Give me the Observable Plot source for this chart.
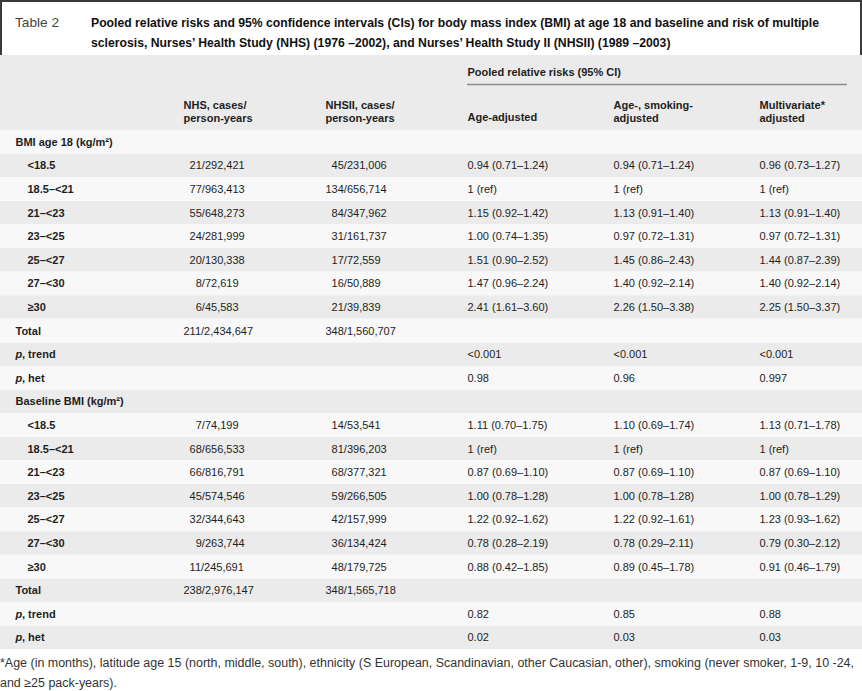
<!DOCTYPE html>
<html><head><meta charset="utf-8">
<script src="https://cdn.jsdelivr.net/npm/d3@7"></script>
<script src="https://cdn.jsdelivr.net/npm/@observablehq/plot@0.6"></script>
<style>
body{margin:0;background:#fff;width:862px;overflow:hidden}
#title{box-sizing:border-box;width:862px;height:55px;border:2px solid #3a3a3a;border-bottom:none;position:relative;font-family:"Liberation Sans",Arial,sans-serif;font-size:13.5px;line-height:20px}
#title .lab{position:absolute;left:13px;top:11px;color:#444}
#title .txt{position:absolute;left:89px;top:11px;font-weight:bold;color:#111}
.ln{display:block;height:20px;white-space:nowrap}
.ln span{display:inline-block;transform-origin:0 0;white-space:nowrap}
#chart svg{display:block}
#note{font-family:"Liberation Sans",Arial,sans-serif;font-size:12.5px;line-height:20px;color:#333;padding-top:2px;width:862px}
</style>
</head><body>
<div id="title"><div class="lab"><span class="ln"><span id="lab">Table 2</span></span></div><div class="txt"><span class="ln"><span id="t1">Pooled relative risks and 95% confidence intervals (CIs) for body mass index (BMI) at age 18 and baseline and risk of multiple</span></span><span class="ln"><span id="t2">sclerosis, Nurses’ Health Study (NHS) (1976 –2002), and Nurses’ Health Study II (NHSII) (1989 –2003)</span></span></div></div>
<div id="chart"></div>
<div id="note"><span class="ln"><span id="n1">*Age (in months), latitude age 15 (north, middle, south), ethnicity (S European, Scandinavian, other Caucasian, other), smoking (never smoker, 1-9, 10 -24,</span></span><span class="ln"><span id="n2">and ≥25 pack-years).</span></span></div>
<script>
// ---------- data ----------
const sections = ["BMI age 18 (kg/m²)", "Baseline BMI (kg/m²)"];
const categories = ["<18.5", "18.5–<21", "21–<23", "23–<25", "25–<27", "27–<30", "≥30"];
const columnHeaders = [
  {key: "nhs", lines: ["NHS, cases/", "person-years"]},
  {key: "nhs2", lines: ["NHSII, cases/", "person-years"]},
  {key: "age", lines: ["Age-adjusted"]},
  {key: "smoke", lines: ["Age-, smoking-", "adjusted"]},
  {key: "multi", lines: ["Multivariate*", "adjusted"]}
];
const spanner = "Pooled relative risks (95% CI)";

const nhsAge18 = ["21/292,421", "77/963,413", "55/648,273", "24/281,999", "20/130,338", "8/72,619", "6/45,583"];
const nhsAge18Total = "211/2,434,647";
const nhs2Age18 = ["45/231,006", "134/656,714", "84/347,962", "31/161,737", "17/72,559", "16/50,889", "21/39,839"];
const nhs2Age18Total = "348/1,560,707";
const ageAdjAge18 = ["0.94 (0.71–1.24)", "1 (ref)", "1.15 (0.92–1.42)", "1.00 (0.74–1.35)", "1.51 (0.90–2.52)", "1.47 (0.96–2.24)", "2.41 (1.61–3.60)"];
const smokeAdjAge18 = ["0.94 (0.71–1.24)", "1 (ref)", "1.13 (0.91–1.40)", "0.97 (0.72–1.31)", "1.45 (0.86–2.43)", "1.40 (0.92–2.14)", "2.26 (1.50–3.38)"];
const multiAdjAge18 = ["0.96 (0.73–1.27)", "1 (ref)", "1.13 (0.91–1.40)", "0.97 (0.72–1.31)", "1.44 (0.87–2.39)", "1.40 (0.92–2.14)", "2.25 (1.50–3.37)"];
const pTrendAge18 = ["<0.001", "<0.001", "<0.001"];
const pHetAge18 = ["0.98", "0.96", "0.997"];

const nhsBase = ["7/74,199", "68/656,533", "66/816,791", "45/574,546", "32/344,643", "9/263,744", "11/245,691"];
const nhsBaseTotal = "238/2,976,147";
const nhs2Base = ["14/53,541", "81/396,203", "68/377,321", "59/266,505", "42/157,999", "36/134,424", "48/179,725"];
const nhs2BaseTotal = "348/1,565,718";
const ageAdjBase = ["1.11 (0.70–1.75)", "1 (ref)", "0.87 (0.69–1.10)", "1.00 (0.78–1.28)", "1.22 (0.92–1.62)", "0.78 (0.28–2.19)", "0.88 (0.42–1.85)"];
const smokeAdjBase = ["1.10 (0.69–1.74)", "1 (ref)", "0.87 (0.69–1.10)", "1.00 (0.78–1.28)", "1.22 (0.92–1.61)", "0.78 (0.29–2.11)", "0.89 (0.45–1.78)"];
const multiAdjBase = ["1.13 (0.71–1.78)", "1 (ref)", "0.87 (0.69–1.10)", "1.00 (0.78–1.29)", "1.23 (0.93–1.62)", "0.79 (0.30–2.12)", "0.91 (0.46–1.79)"];
const pTrendBase = ["0.82", "0.85", "0.88"];
const pHetBase = ["0.02", "0.03", "0.03"];

// ---------- layout ----------
const W = 862, H = 596;
const L = {headerH: 75, rowH: 23.6, secX: 15, catX: 27,
  cols: {nhs: 183, nhs2: 325, age: 467, smoke: 613, multi: 759},
  spanY: 17, ruleY: 29, ruleX2: 847, head1: 50, head2: 63};
const grey = "#ebebeb", light = "#f8f8f8", ink = "#1e1e1e";
const fs = "\u2007";
const pad = s => fs.repeat(Math.max(0, 3 - s.indexOf("/"))) + s;

// ---------- build rows ----------
const rows = [];
function addSection(title, nhs, nhsT, nhs2, nhs2T, age, smoke, multi, pT, pH) {
  rows.push({kind: "section", label: title});
  categories.forEach((c, k) => rows.push({kind: "cat", label: c, nhs: pad(nhs[k]), nhs2: pad(nhs2[k]), age: age[k], smoke: smoke[k], multi: multi[k]}));
  rows.push({kind: "section", label: "Total", nhs: pad(nhsT), nhs2: pad(nhs2T)});
  rows.push({kind: "p", label: ", trend", age: pT[0], smoke: pT[1], multi: pT[2]});
  rows.push({kind: "p", label: ", het", age: pH[0], smoke: pH[1], multi: pH[2]});
}
addSection(sections[0], nhsAge18, nhsAge18Total, nhs2Age18, nhs2Age18Total, ageAdjAge18, smokeAdjAge18, multiAdjAge18, pTrendAge18, pHetAge18);
addSection(sections[1], nhsBase, nhsBaseTotal, nhs2Base, nhs2BaseTotal, ageAdjBase, smokeAdjBase, multiAdjBase, pTrendBase, pHetBase);
rows.forEach((r, i) => { r.i = i; r.top = L.headerH + i * L.rowH; r.mid = r.top + L.rowH / 2; });

const cells = [];
rows.forEach(r => ["nhs", "nhs2", "age", "smoke", "multi"].forEach(k => { if (r[k]) cells.push({x: L.cols[k], y: r.mid, text: r[k]}); }));

const headCells = [];
columnHeaders.forEach(h => {
  if (h.lines.length === 2) {
    headCells.push({x: L.cols[h.key], y: L.head1, text: h.lines[0]});
    headCells.push({x: L.cols[h.key], y: L.head2, text: h.lines[1]});
  } else headCells.push({x: L.cols[h.key], y: L.head2 - 1, text: h.lines[0]});
});

const font = "'Liberation Sans', Arial, sans-serif";
const chart = Plot.plot({
  width: W, height: H, margin: 0,
  x: {domain: [0, W], range: [0, W], axis: null},
  y: {domain: [0, H], range: [0, H], axis: null},
  style: {fontFamily: font, fontSize: "11px", background: "#fff", color: ink},
  marks: [
    Plot.rect([0], {x1: 0, x2: W, y1: 0, y2: L.headerH, fill: grey}),
    Plot.rect(rows.filter(r => r.i % 2), {x1: 0, x2: W, y1: "top", y2: d => d.top + L.rowH, fill: grey}),
    Plot.rect(rows.filter(r => !(r.i % 2)), {x1: 0, x2: W, y1: "top", y2: d => d.top + L.rowH, fill: light}),
    Plot.text([spanner], {x: L.cols.age, y: L.spanY, text: d => d, textAnchor: "start", fontWeight: 600, fill: ink}),
    Plot.ruleY([L.ruleY], {x1: L.cols.age, x2: L.ruleX2, stroke: "#8c8c8c", strokeWidth: 1.5}),
    Plot.text(headCells, {x: "x", y: "y", text: "text", textAnchor: "start", fontWeight: 600, fill: ink}),
    Plot.text(rows.filter(r => r.kind === "section"), {x: L.secX, y: "mid", text: "label", textAnchor: "start", fontWeight: 600, fill: ink}),
    Plot.text(rows.filter(r => r.kind === "cat"), {x: L.catX, y: "mid", text: "label", textAnchor: "start", fontWeight: 600, fill: ink}),
    Plot.text(rows.filter(r => r.kind === "p"), {x: L.secX, y: "mid", text: () => "p", textAnchor: "start", fontWeight: 600, fontStyle: "italic", fill: ink}),
    Plot.text(rows.filter(r => r.kind === "p"), {x: L.secX, y: "mid", dx: 6.5, text: "label", textAnchor: "start", fontWeight: 600, fill: ink}),
    Plot.text(cells, {x: "x", y: "y", text: "text", textAnchor: "start", fill: ink})
  ]
});
document.getElementById("chart").append(chart);

// condense title and footnote lines to the reference widths
function squeeze(ids, targetWidth) {
  const first = document.getElementById(ids[0]);
  const k = targetWidth / first.getBoundingClientRect().width;
  ids.forEach(id => { document.getElementById(id).style.transform = `scaleX(${k})`; });
}
squeeze(["t1", "t2"], 728);
squeeze(["n1", "n2"], 854);
squeeze(["lab"], 44);
</script>
</body></html>
